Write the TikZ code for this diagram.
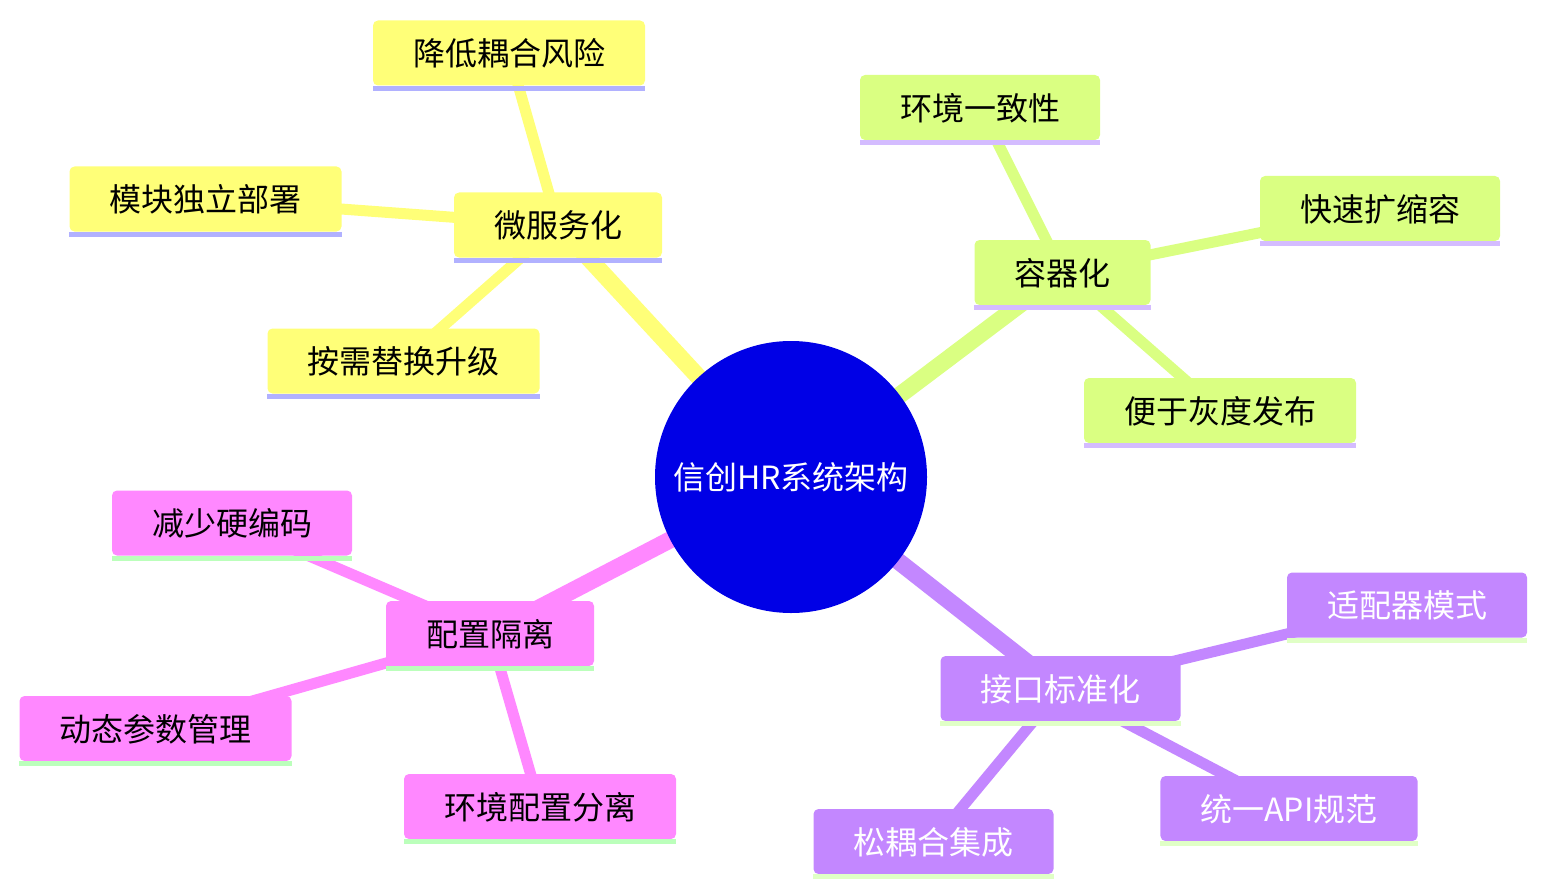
\documentclass[tikz,border=0pt]{standalone}
\usepackage{fontspec}
\setmainfont{Noto Sans CJK SC}
\usetikzlibrary{backgrounds}
\definecolor{rootc}{HTML}{0000E6}
\definecolor{yfill}{HTML}{FFFF78}
\definecolor{yline}{HTML}{B1B1FF}
\definecolor{gfill}{HTML}{DAFF82}
\definecolor{gline}{HTML}{D4BCFF}
\definecolor{pfill}{HTML}{FF88FF}
\definecolor{pline}{HTML}{BBFFBB}
\definecolor{vfill}{HTML}{C387FF}
\definecolor{vline}{HTML}{E0FFC6}
\begin{document}
\begin{tikzpicture}[x=1pt, y=-1pt,
    every node/.style={font=\fontsize{32}{38}\selectfont, text height=25.5pt, text depth=0pt},
    leaf/.style={rectangle, rounded corners=5pt, minimum height=65pt, inner xsep=40pt},
    ynode/.style={leaf, fill=yfill, text=black},
    gnode/.style={leaf, fill=gfill, text=black},
    pnode/.style={leaf, fill=pfill, text=black},
    vnode/.style={leaf, fill=vfill, text=white}]
    \useasboundingbox (0,0) rectangle (1546,896);
    \node[circle, fill=rootc, text=white, minimum size=272pt, inner sep=0pt] (root) at (791,477) {信创HR系统架构};
    % 微服务化
    \node[ynode] (ms) at (558,225) {微服务化};
    \node[ynode] (ms1) at (509,53) {降低耦合风险};
    \node[ynode] (ms2) at (205.5,199) {模块独立部署};
    \node[ynode] (ms3) at (403.5,361) {按需替换升级};
    % 容器化
    \node[gnode] (ct) at (1062.5,272.5) {容器化};
    \node[gnode] (ct1) at (980,107.5) {环境一致性};
    \node[gnode] (ct2) at (1380,208.5) {快速扩缩容};
    \node[gnode] (ct3) at (1220,410.5) {便于灰度发布};
    % 配置隔离
    \node[pnode] (cf) at (490,633.5) {配置隔离};
    \node[pnode] (cf1) at (232,523) {减少硬编码};
    \node[pnode] (cf2) at (155.5,728.5) {动态参数管理};
    \node[pnode] (cf3) at (540,806.5) {环境配置分离};
    % 接口标准化
    \node[vnode] (api) at (1060.5,688.5) {接口标准化};
    \node[vnode] (api1) at (1407,605) {适配器模式};
    \node[vnode] (api2) at (1289,808.5) {统一API规范};
    \node[vnode] (api3) at (933.5,841.5) {松耦合集成};
    % underlines
    \foreach \n/\c in {ms/yline,ms1/yline,ms2/yline,ms3/yline,ct/gline,ct1/gline,ct2/gline,ct3/gline,
                       cf/pline,cf1/pline,cf2/pline,cf3/pline,api/vline,api1/vline,api2/vline,api3/vline}
        \fill[\c] (\n.south west) rectangle ([yshift=-5pt]\n.south east);
    % edges
    \begin{scope}[on background layer]
        \foreach \a/\c in {ms/yfill,ct/gfill,cf/pfill,api/vfill}
            \draw[\c, line width=17pt] (root.center) -- (\a.center);
        \foreach \a/\b/\c in {ms/ms1/yfill,ms/ms2/yfill,ms/ms3/yfill,ct/ct1/gfill,ct/ct2/gfill,ct/ct3/gfill,
                              cf/cf1/pfill,cf/cf2/pfill,cf/cf3/pfill,api/api1/vfill,api/api2/vfill,api/api3/vfill}
            \draw[\c, line width=11pt] (\a.center) -- (\b.center);
    \end{scope}
\end{tikzpicture}
\end{document}
